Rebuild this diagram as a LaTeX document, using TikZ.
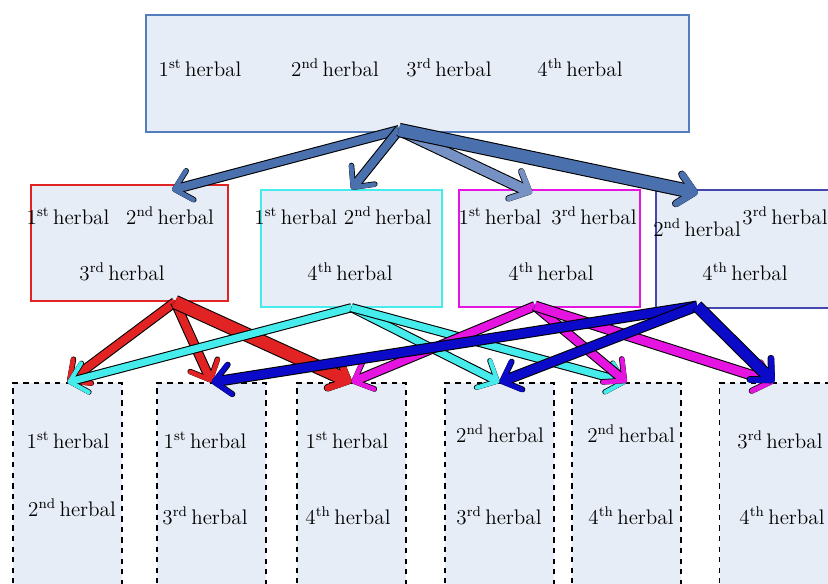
\documentclass[tikz,border=0pt]{standalone}
\usetikzlibrary{arrows.meta}

\definecolor{boxfill}{RGB}{231,237,247}
\definecolor{topline}{RGB}{84,125,190}
\definecolor{toparrow}{RGB}{74,112,174}
\definecolor{toplight}{RGB}{118,146,196}
\definecolor{redline}{RGB}{225,35,35}
\definecolor{cyanline}{RGB}{70,235,235}
\definecolor{magline}{RGB}{230,20,225}
\definecolor{blueline}{RGB}{10,10,200}
\definecolor{navyline}{RGB}{70,70,175}

\newcommand{\hb}[2]{#1\textsuperscript{#2}\,herbal}

\begin{document}
\begin{tikzpicture}[x=0.02cm,y=-0.02cm]

\tikzset{box/.style = {shape=rectangle,fill=boxfill,line width=0.8pt,inner sep=0pt}}
\tikzset{pair/.style = {box,draw=black,dashed,minimum width=2.18cm,minimum height=4.6cm}}
\tikzset{txt/.style = {font=\fontsize{12}{14}\selectfont,inner sep=0pt}}
\tikzset{flow/.style 2 args = {draw=#1,line width=#2,
  -{Straight Barb[length=9pt,width=17pt,line width=0.6pt 0.45,round]},
  preaction={draw=black,line width=#2+1.2pt}}}

\useasboundingbox (0,0) rectangle (828,584);

%boxes
\node[box,draw=topline,minimum width=10.86cm,minimum height=2.34cm] (top) at (417.5,73.5) {};
\node[box,draw=redline,minimum width=3.94cm,minimum height=2.32cm] (red) at (129.5,243) {};
\node[box,draw=cyanline,minimum width=3.62cm,minimum height=2.34cm] (cyan) at (351.5,248.5) {};
\node[box,draw=magline,minimum width=3.62cm,minimum height=2.34cm] (mag) at (549.5,248.5) {};
\node[box,draw=navyline,minimum width=3.62cm,minimum height=2.36cm] (blue) at (746.5,249) {};
\node[pair] (b1) at (67.5,498) {};
\node[pair] (b2) at (211.5,498) {};
\node[pair] (b3) at (351.5,498) {};
\node[pair] (b4) at (499.5,498) {};
\node[pair] (b5) at (626.5,498) {};
\node[pair] (b6) at (774,498) {};

%texts
\node[txt] (t1) at (200,68) {\hb{1}{st}};
\node[txt] (t2) at (335,68) {\hb{2}{nd}};
\node[txt] (t3) at (449,68) {\hb{3}{rd}};
\node[txt] (t4) at (580,68) {\hb{4}{th}};
\node[txt] (r1) at (68,216) {\hb{1}{st}};
\node[txt] (r2) at (170,216) {\hb{2}{nd}};
\node[txt] (r3) at (122,272) {\hb{3}{rd}};
\node[txt] (c1) at (343,216) {\hb{1}{st} \hb{2}{nd}};
\node[txt] (c2) at (350,272) {\hb{4}{th}};
\node[txt] (m1) at (500,216) {\hb{1}{st}};
\node[txt] (m2) at (594,216) {\hb{3}{rd}};
\node[txt] (m3) at (551,272) {\hb{4}{th}};
\node[txt] (n1) at (697,228) {\hb{2}{nd}};
\node[txt] (n2) at (785,216) {\hb{3}{rd}};
\node[txt] (n3) at (745,272) {\hb{4}{th}};
\node[txt] (p1) at (68,440) {\hb{1}{st}};
\node[txt] (p2) at (72,508) {\hb{2}{nd}};
\node[txt] (q1) at (205,440) {\hb{1}{st}};
\node[txt] (q2) at (205,516) {\hb{3}{rd}};
\node[txt] (s1) at (347,440) {\hb{1}{st}};
\node[txt] (s2) at (348,516) {\hb{4}{th}};
\node[txt] (u1) at (500,434) {\hb{2}{nd}};
\node[txt] (u2) at (499,516) {\hb{3}{rd}};
\node[txt] (v1) at (631,434) {\hb{2}{nd}};
\node[txt] (v2) at (631,516) {\hb{4}{th}};
\node[txt] (w1) at (780,440) {\hb{3}{rd}};
\node[txt] (w2) at (782,516) {\hb{4}{th}};

%hubs
\coordinate (topout) at (399,130);
\coordinate (redin) at (172,190);
\coordinate (magin) at (532,193);
\coordinate (bluein) at (698,193);
\coordinate (redout) at (175,302);
\coordinate (magout) at (535,306);
\coordinate (blueout) at (697,306);

%edges
\draw[flow={toparrow}{4.5pt}] (topout) -- (redin);
\draw[flow={toparrow}{4.5pt}] (topout) -- (cyan.north);
\draw[flow={toplight}{5.5pt}] (topout) -- (magin);
\draw[flow={toparrow}{7pt}] (topout) -- (bluein);
\draw[flow={redline}{4.5pt}] (redout) -- (b1.north);
\draw[flow={redline}{4.5pt}] (redout) -- (b2.north);
\draw[flow={redline}{7pt}] (redout) -- (b3.north);
\draw[flow={cyanline}{4pt}] (cyan.south) -- (b1.north);
\draw[flow={cyanline}{4pt}] (cyan.south) -- (b4.north);
\draw[flow={cyanline}{4pt}] (cyan.south) -- (b5.north);
\draw[flow={magline}{4.5pt}] (magout) -- (b3.north);
\draw[flow={magline}{4.5pt}] (magout) -- (b5.north);
\draw[flow={magline}{5pt}] (magout) -- (b6.north);
\draw[flow={blueline}{5pt}] (blueout) -- (b2.north);
\draw[flow={blueline}{5pt}] (blueout) -- (b4.north);
\draw[flow={blueline}{6pt}] (blueout) -- (b6.north);

\end{tikzpicture}
\end{document}
